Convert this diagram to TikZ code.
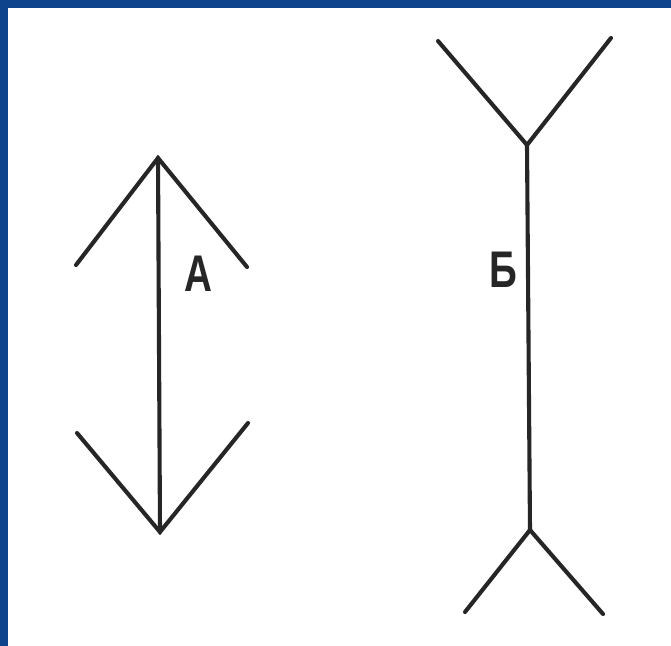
\documentclass[tikz,border=0pt]{standalone}
\usepackage{fontspec}
\setmainfont{Liberation Sans}
\usetikzlibrary{positioning}
\definecolor{frameblue}{RGB}{14,68,140}

\begin{document}
\begin{tikzpicture}[
  x=0.03cm, y=-0.03cm,
  stroke/.style={draw=black!85, line width=3.5pt, line cap=round, line join=miter},
  letter/.style={font=\fontsize{44}{44}\selectfont\bfseries, text=black!85, inner sep=0pt,
                 xscale=0.75, transform shape}
]

% frame and page
\fill[frameblue] (0,0) rectangle (671,646);
\fill[white] (8,8) rectangle (671,646);
\useasboundingbox (0,0) rectangle (671,646);

% Figure A
\coordinate (atop) at (158,158);
\coordinate (abot) at (160,532);
\coordinate (atl) at (76,265);
\coordinate (atr) at (247,267);
\coordinate (abl) at (77,433);
\coordinate (abr) at (248,423);
\draw[stroke] (atl) -- (atop) -- (atr);
\draw[stroke] (atop) -- (abot);
\draw[stroke] (abl) -- (abot) -- (abr);
\node[letter] (la) at (198,274) {А};

% Figure B
\coordinate (btop) at (527,145);
\coordinate (bbot) at (530,530);
\coordinate (btl) at (438,41);
\coordinate (btr) at (611,38);
\coordinate (bbl) at (465,612);
\coordinate (bbr) at (603,614);
\draw[stroke] (btl) -- (btop) -- (btr);
\draw[stroke] (btop) -- (bbot);
\draw[stroke] (bbl) -- (bbot) -- (bbr);
\node[letter] (lb) at (503,270) {Б};

\end{tikzpicture}
\end{document}
